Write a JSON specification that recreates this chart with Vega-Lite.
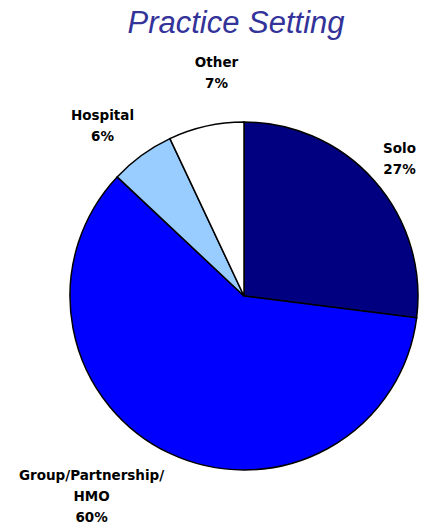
{
  "$schema": "https://vega.github.io/schema/vega-lite/v6.json",
  "width": 362,
  "height": 466,
  "autosize": {"type": "none"},
  "padding": {"left": 63, "top": 63, "right": 0, "bottom": 0},
  "background": "white",
  "title": {
    "text": "Practice Setting",
    "font": "Liberation Sans",
    "fontSize": 31,
    "fontStyle": "italic",
    "fontWeight": "normal",
    "color": "#333399",
    "anchor": "middle",
    "dx": -8,
    "offset": 16
  },
  "data": {
    "values": [
      {"category": "Solo", "percent": 27, "order": 1, "label": "Solo\n27%"},
      {"category": "Group/Partnership/HMO", "percent": 60, "order": 2, "label": "Group/Partnership/\nHMO\n60%"},
      {"category": "Hospital", "percent": 6, "order": 3, "label": "Hospital\n6%"},
      {"category": "Other", "percent": 7, "order": 4, "label": "Other\n7%"}
    ]
  },
  "encoding": {
    "theta": {"field": "percent", "type": "quantitative", "stack": true},
    "order": {"field": "order", "type": "quantitative"}
  },
  "layer": [
    {
      "mark": {"type": "arc", "outerRadius": 174, "stroke": "black", "strokeWidth": 1.5},
      "encoding": {
        "color": {
          "field": "category",
          "type": "nominal",
          "scale": {
            "domain": ["Solo", "Group/Partnership/HMO", "Hospital", "Other"],
            "range": ["#000080", "#0000FF", "#99CCFF", "#FFFFFF"]
          },
          "legend": null
        }
      }
    },
    {
      "mark": {
        "type": "text",
        "radius": 222,
        "dx": -11,
        "dy": 0,
        "font": "DejaVu Sans",
        "fontWeight": "bold",
        "fontSize": 13.5,
        "lineBreak": "\n",
        "lineHeight": 21,
        "color": "black",
        "align": "center",
        "baseline": "middle"
      },
      "encoding": {
        "text": {"field": "label"},
        "opacity": {"condition": {"test": "datum.order == 1 || datum.order == 3", "value": 1}, "value": 0}
      }
    },
    {
      "mark": {
        "type": "text",
        "radius": 236,
        "dx": 24,
        "dy": -3,
        "font": "DejaVu Sans",
        "fontWeight": "bold",
        "fontSize": 13.5,
        "lineBreak": "\n",
        "lineHeight": 21,
        "color": "black",
        "align": "center",
        "baseline": "middle"
      },
      "encoding": {
        "text": {"field": "label"},
        "opacity": {"condition": {"test": "datum.order == 4", "value": 1}, "value": 0}
      }
    },
    {
      "mark": {
        "type": "text",
        "radius": 196,
        "dx": -69,
        "dy": 3,
        "font": "DejaVu Sans",
        "fontWeight": "bold",
        "fontSize": 13.5,
        "lineBreak": "\n",
        "lineHeight": 21,
        "color": "black",
        "align": "center",
        "baseline": "middle"
      },
      "encoding": {
        "text": {"field": "label"},
        "opacity": {"condition": {"test": "datum.order == 2", "value": 1}, "value": 0}
      }
    }
  ]
}
